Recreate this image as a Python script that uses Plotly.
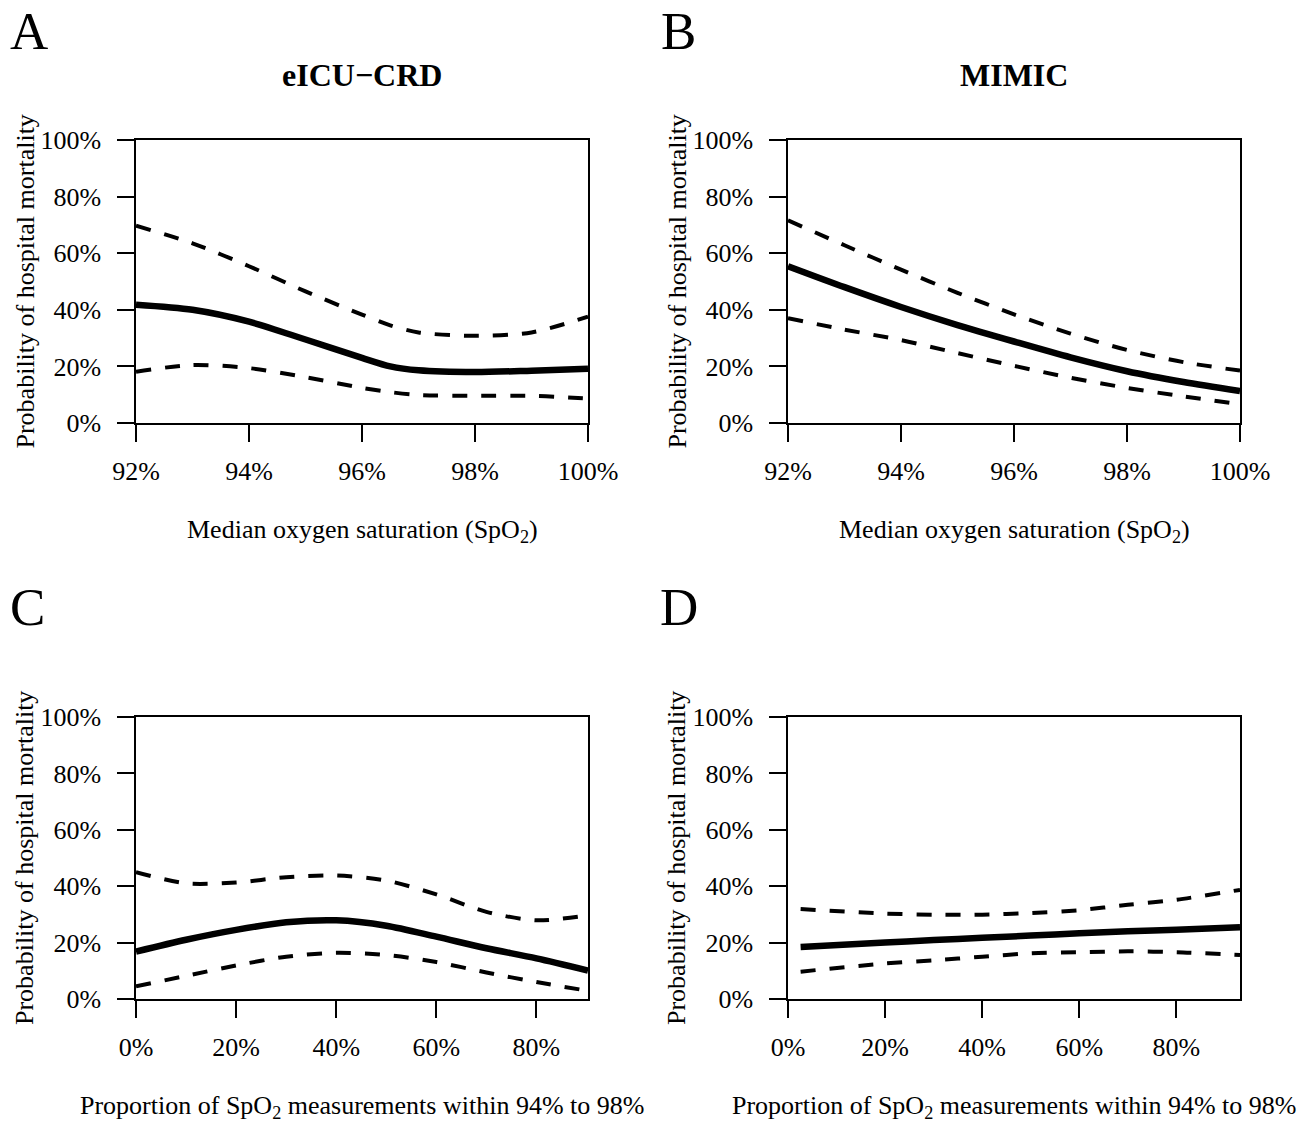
import plotly.graph_objects as go

# ---- Panel A: eICU-CRD, median SpO2 ----
a_x = [92, 93, 94, 95, 96, 96.5, 97, 98, 99, 100]
a_fit = [41.8, 40.0, 35.8, 29.5, 23.0, 20.0, 18.6, 18.0, 18.5, 19.2]
a_upper = [69.7, 63.5, 55.4, 46.5, 38.3, 34.5, 32.0, 30.8, 32.0, 37.6]
a_lower = [18.1, 20.5, 19.4, 16.2, 12.4, 10.9, 9.9, 9.6, 9.6, 8.6]

# ---- Panel B: MIMIC, median SpO2 ----
b_x = [92, 93, 94, 95, 96, 97, 98, 99, 100]
b_fit = [55.4, 48.0, 41.0, 34.6, 28.8, 23.2, 18.3, 14.5, 11.3]
b_upper = [71.6, 62.8, 54.2, 46.0, 38.4, 31.6, 25.8, 21.5, 18.5]
b_lower = [37.0, 33.0, 29.3, 24.7, 20.2, 16.0, 12.4, 9.4, 6.6]

# ---- Panel C: eICU-CRD, proportion within 94-98% ----
c_x = [0, 10, 20, 30, 40, 50, 60, 70, 80, 90.3]
c_fit = [16.8, 21.0, 24.5, 27.2, 27.9, 26.0, 22.1, 18.0, 14.4, 10.1]
c_upper = [45.0, 41.0, 41.3, 43.2, 43.8, 42.0, 37.1, 30.9, 27.9, 29.7]
c_lower = [4.5, 8.2, 11.9, 15.0, 16.4, 15.6, 13.1, 9.4, 6.0, 2.9]

# ---- Panel D: MIMIC, proportion within 94-98% ----
d_x = [2.6, 20, 30, 40, 50, 60, 70, 80, 93.1]
d_fit = [18.4, 20.0, 20.9, 21.7, 22.5, 23.3, 24.0, 24.6, 25.4]
d_upper = [31.9, 30.3, 29.9, 29.9, 30.5, 31.5, 33.4, 35.2, 38.7]
d_lower = [9.7, 12.6, 13.7, 15.0, 16.2, 16.6, 16.9, 16.6, 15.6]

# tick labels
spo2_ticks = [92, 94, 96, 98, 100]
prop_ticks = [0, 20, 40, 60, 80]
y_ticks = [0, 20, 40, 60, 80, 100]

W, H = 1305, 1122
FONT = "Liberation Serif, Times New Roman, serif"

panels = [
    dict(name="A", title="eICU\u2212CRD", x=a_x, fit=a_fit, up=a_upper, lo=a_lower,
         xr=[92, 100], ticks=spo2_ticks, xtitle="Median oxygen saturation (SpO<sub>2</sub>)",
         box=(136, 588, 140, 423), letter=(28.5, 30.5)),
    dict(name="B", title="MIMIC", x=b_x, fit=b_fit, up=b_upper, lo=b_lower,
         xr=[92, 100], ticks=spo2_ticks, xtitle="Median oxygen saturation (SpO<sub>2</sub>)",
         box=(788, 1240, 140, 423), letter=(678, 30.5)),
    dict(name="C", title=None, x=c_x, fit=c_fit, up=c_upper, lo=c_lower,
         xr=[0, 90.3], ticks=prop_ticks,
         xtitle="Proportion of SpO<sub>2</sub> measurements within 94% to 98%",
         box=(136, 588, 717, 999), letter=(27, 607)),
    dict(name="D", title=None, x=d_x, fit=d_fit, up=d_upper, lo=d_lower,
         xr=[0, 93.1], ticks=prop_ticks,
         xtitle="Proportion of SpO<sub>2</sub> measurements within 94% to 98%",
         box=(788, 1240, 717, 999), letter=(679, 607)),
]

fig = go.Figure()
annotations = []

def px(x):
    return x / W

def py(y):
    return 1 - y / H

for i, p in enumerate(panels, start=1):
    xa = "x" if i == 1 else f"x{i}"
    ya = "y" if i == 1 else f"y{i}"
    # confidence limits (dashed) and fitted curve (solid)
    for vals, dash, width in ((p["up"], "15px,14px", 4), (p["lo"], "15px,14px", 4),
                              (p["fit"], "solid", 6.5)):
        fig.add_trace(go.Scatter(
            x=p["x"], y=vals, mode="lines", xaxis=xa, yaxis=ya,
            line=dict(color="black", width=width, dash=dash, shape="spline", smoothing=0.8),
            showlegend=False, hoverinfo="skip", cliponaxis=True))

    x0, x1, y0, y1 = p["box"]
    axis_common = dict(showline=True, linecolor="black", linewidth=1.5, mirror=True,
                       ticks="outside", ticklen=17, tickwidth=1.5, tickcolor="black",
                       showgrid=False, zeroline=False, fixedrange=True, automargin=False,
                       tickfont=dict(family=FONT, size=26, color="black"))
    fig.update_layout(**{
        ("xaxis" if i == 1 else f"xaxis{i}"): dict(
            axis_common, domain=[px(x0), px(x1)], range=p["xr"], anchor=ya,
            tickvals=p["ticks"], ticktext=[f"{t}%" for t in p["ticks"]],
            ticklabelstandoff=7),
        ("yaxis" if i == 1 else f"yaxis{i}"): dict(
            axis_common, domain=[py(y1), py(y0)], range=[0, 100], anchor=xa,
            tickvals=y_ticks, ticktext=[f"{t}%" for t in y_ticks],
            ticklabelstandoff=11),
    })

    cx = (x0 + x1) / 2
    cy = (y0 + y1) / 2
    # panel letter
    lx, ly = p["letter"]
    annotations.append(dict(text=p["name"], x=px(lx), y=py(ly), xref="paper", yref="paper",
                            showarrow=False, xanchor="center", yanchor="middle",
                            font=dict(family=FONT, size=53, color="black")))
    if p["title"]:
        annotations.append(dict(text=f"<b>{p['title']}</b>", x=px(cx), y=py(75.5),
                                xref="paper", yref="paper", showarrow=False,
                                xanchor="center", yanchor="middle",
                                font=dict(family=FONT, size=32, color="black")))
    # x-axis title
    annotations.append(dict(text=p["xtitle"], x=px(cx), y=py(y1 + 108),
                            xref="paper", yref="paper", showarrow=False,
                            xanchor="center", yanchor="middle",
                            font=dict(family=FONT, size=26, color="black")))
    # y-axis title
    annotations.append(dict(text="Probability of hospital mortality", x=px(x0 - 111),
                            y=py(cy), xref="paper", yref="paper", showarrow=False,
                            textangle=-90, xanchor="center", yanchor="middle",
                            font=dict(family=FONT, size=26, color="black")))

fig.update_layout(width=W, height=H, margin=dict(l=0, r=0, t=0, b=0),
                  paper_bgcolor="white", plot_bgcolor="white",
                  annotations=annotations, showlegend=False)

fig.write_html("out.html")
